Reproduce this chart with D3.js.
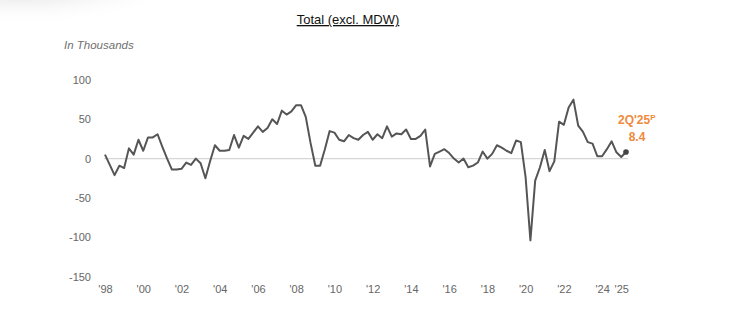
<!DOCTYPE html>
<html>
<head>
<meta charset="utf-8">
<script src="https://cdn.jsdelivr.net/npm/d3@7/dist/d3.min.js"></script>
<style>
  html, body { margin: 0; padding: 0; background: #fff; }
  svg { display: block; font-family: "Liberation Sans", Arial, sans-serif; }
</style>
</head>
<body>
<svg id="chart" width="748" height="331"></svg>
<script>
// Quarterly change, in thousands, starting 1Q'98 and ending 2Q'25 (preliminary)
const startYear = 1998;
const values = [
  5, -8, -21, -9, -12, 13, 5, 24, 10, 27, 27, 31,
  15, 0, -14, -14, -13, -5, -8, 0, -6, -25, -3, 17,
  10, 10, 11, 30, 14, 29, 25, 33, 41, 34, 39, 50,
  44, 61, 56, 60, 68, 68, 53, 20, -9, -9, 12, 35,
  33, 24, 22, 30, 26, 24, 30, 34, 24, 31, 26, 41,
  28, 32, 31, 37, 25, 25, 29, 37, -10, 6, 9, 12,
  7, 0, -5, 0, -11, -9, -5, 9, 0, 6, 17, 14,
  10, 7, 23, 21, -24, -104, -28, -11, 11, -16, -3.5, 47,
  43, 65, 75, 42, 34, 21, 19, 3, 3, 12, 22, 8,
  2, 8.4
];
const yTicks = [100, 50, 0, -50, -100, -150];
const xTickYears = [1998, 2000, 2002, 2004, 2006, 2008, 2010, 2012, 2014, 2016, 2018, 2020, 2022, 2024, 2025];
const xTickLabels = ["'98", "'00", "'02", "'04", "'06", "'08", "'10", "'12", "'14", "'16", "'18", "'20", "'22", "'24", "'25"];
const titleText = "Total (excl. MDW)";
const unitText = "In Thousands";
const lastLabel = "2Q'25";
const lastSup = "P";

const data = values.map((v, i) => ({ t: startYear + i / 4, v }));
const last = data[data.length - 1];

const svg = d3.select("#chart");

// soft grey shading in the upper-left corner
const defs = svg.append("defs");
const rg = defs.append("radialGradient").attr("id", "corner")
  .attr("cx", "0.3").attr("cy", "0.15").attr("r", "0.7");
rg.append("stop").attr("offset", "0").attr("stop-color", "#d0d0d0").attr("stop-opacity", 0.9);
rg.append("stop").attr("offset", "0.5").attr("stop-color", "#e4e4e4").attr("stop-opacity", 0.55);
rg.append("stop").attr("offset", "1").attr("stop-color", "#ffffff").attr("stop-opacity", 0);
svg.append("ellipse").attr("cx", 70).attr("cy", 0).attr("rx", 125).attr("ry", 36)
  .attr("fill", "url(#corner)");

const x = d3.scaleLinear().domain([startYear, last.t]).range([105, 626]);
const y = d3.scaleLinear().domain([-150, 100]).range([276.5, 80]);

// title
svg.append("text")
  .attr("x", 348).attr("y", 24)
  .attr("text-anchor", "middle")
  .attr("font-size", 13)
  .attr("fill", "#111")
  .attr("text-decoration", "underline")
  .text(titleText);

svg.append("text")
  .attr("x", 64).attr("y", 49)
  .attr("font-size", 11.5)
  .attr("font-style", "italic")
  .attr("fill", "#707070")
  .text(unitText);

// y axis labels
const yAxis = d3.axisLeft(y).tickValues(yTicks).tickSize(0).tickPadding(0)
  .tickFormat(d => String(d));
const gy = svg.append("g").attr("transform", "translate(91,0)").call(yAxis);
gy.select(".domain").remove();
gy.selectAll("text").style("fill", "#666").attr("font-size", 11)
  .attr("font-family", "'Liberation Sans', Arial, sans-serif");

// x axis labels
const xAxis = d3.axisBottom(x).tickValues(xTickYears).tickSize(0).tickPadding(0)
  .tickFormat((d, i) => xTickLabels[i]);
const gx = svg.append("g").attr("transform", "translate(0,285)").call(xAxis);
gx.select(".domain").remove();
gx.selectAll("text").style("fill", "#666").attr("font-size", 11)
  .attr("font-family", "'Liberation Sans', Arial, sans-serif");

// zero reference line
svg.append("line")
  .attr("x1", x(startYear) - 1).attr("x2", x(last.t) + 2)
  .attr("y1", y(0)).attr("y2", y(0))
  .attr("stroke", "#d6d6d6").attr("stroke-width", 1.2);

// series line
const line = d3.line().x(d => x(d.t)).y(d => y(d.v)).curve(d3.curveLinear);
svg.append("path").datum(data)
  .attr("d", line)
  .attr("fill", "none")
  .attr("stroke", "#555")
  .attr("stroke-width", 2)
  .attr("stroke-linejoin", "round");

svg.append("circle")
  .attr("cx", x(last.t)).attr("cy", y(last.v)).attr("r", 2.8)
  .attr("fill", "#444");

// latest value label
const orange = "#EE8A3C";
const lab = svg.append("text")
  .attr("x", 618).attr("y", 124)
  .attr("font-size", 12).attr("font-weight", "bold").attr("fill", orange);
lab.append("tspan").text(lastLabel);
lab.append("tspan").attr("font-size", 8).attr("dy", -4).text(lastSup);

svg.append("text")
  .attr("x", 637).attr("y", 141)
  .attr("text-anchor", "middle")
  .attr("font-size", 12).attr("font-weight", "bold").attr("fill", orange)
  .text(d3.format(".1f")(last.v));
</script>
</body>
</html>
